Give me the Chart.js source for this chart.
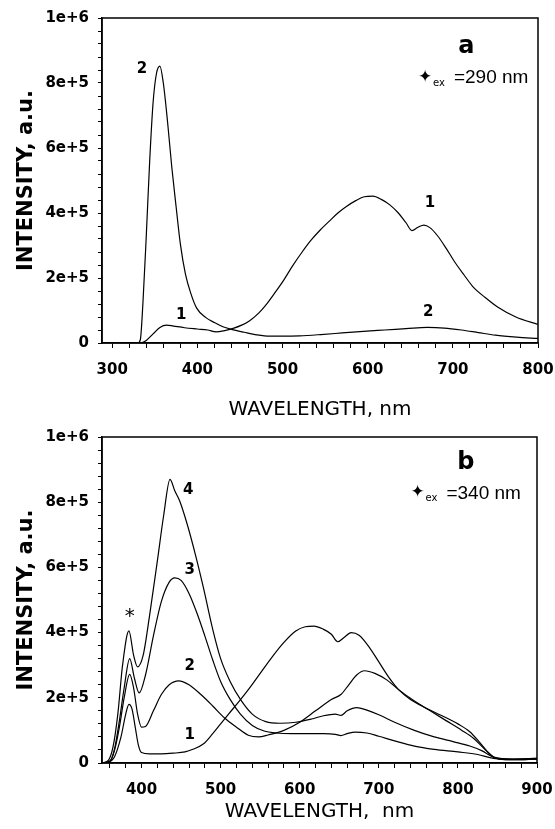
<!DOCTYPE html>
<html>
<head>
<meta charset="utf-8">
<script src="https://cdn.jsdelivr.net/npm/chart.js@4.4.1/dist/chart.umd.min.js"></script>
<style>
  html, body { margin: 0; padding: 0; background: #fff; }
  #wrap { position: relative; width: 555px; height: 829px; }
  canvas { position: absolute; left: 0; }
  #chartA { top: 0; }
  #chartB { top: 422px; }
</style>
</head>
<body>
<div id="wrap">
  <canvas id="chartA" width="555" height="422"></canvas>
  <canvas id="chartB" width="555" height="407"></canvas>
</div>
<script>
// ---- panel a, excitation 290 nm ----
const wlA1 = [288, 333, 340, 348, 356, 364, 372, 385, 400, 412, 422, 432, 442, 452, 461, 472, 482, 492, 502, 512, 523, 533, 544, 555, 565, 575, 586, 596, 606, 616, 626, 636, 645, 652, 659, 666, 673, 682, 692, 702, 713, 724, 738, 753, 774, 800];
const intA1 = [0, 0, 8000, 28000, 48000, 55000, 52000, 47000, 43000, 40000, 34000, 38000, 45000, 55000, 68000, 92000, 122000, 158000, 196000, 238000, 280000, 315000, 347000, 375000, 400000, 420000, 438000, 450000, 452000, 442000, 425000, 400000, 370000, 346000, 356000, 363000, 355000, 330000, 292000, 250000, 210000, 172000, 140000, 110000, 80000, 57000];

const wlA2 = [288, 330, 333, 336, 340, 344, 348, 352, 356, 360, 365, 370, 375, 380, 386, 392, 399, 410, 420, 430, 440, 455, 470, 485, 500, 520, 545, 570, 595, 620, 645, 670, 690, 710, 730, 750, 775, 800];
const intA2 = [0, 0, 10000, 120000, 330000, 560000, 740000, 830000, 852000, 800000, 680000, 540000, 420000, 305000, 212000, 155000, 108000, 78000, 63000, 50000, 42000, 33000, 25000, 21000, 21000, 22000, 26000, 31000, 36000, 40000, 44000, 48000, 46000, 40000, 32000, 24000, 18000, 14000];

// ---- panel b, excitation 340 nm ----
const wlB1 = [350, 358, 366, 374, 380, 384, 388, 392, 396, 400, 410, 425, 440, 455, 465, 478, 490, 500, 510, 522, 535, 550, 565, 580, 595, 607, 618, 630, 640, 648, 656, 665, 675, 688, 700, 712, 725, 740, 760, 780, 800, 815, 828, 840, 852, 870, 900];
const intB1 = [0, 2000, 20000, 80000, 150000, 180000, 165000, 110000, 55000, 32000, 28000, 28000, 30000, 34000, 42000, 58000, 90000, 120000, 150000, 185000, 225000, 275000, 325000, 370000, 405000, 418000, 420000, 410000, 395000, 372000, 385000, 400000, 392000, 355000, 310000, 265000, 225000, 195000, 168000, 145000, 120000, 96000, 62000, 28000, 12000, 10000, 12000];

const wlB2 = [350, 360, 366, 372, 378, 385, 390, 395, 400, 405, 415, 425, 435, 447, 460, 475, 490, 505, 520, 535, 548, 560, 580, 600, 620, 640, 652, 662, 672, 682, 695, 710, 725, 745, 765, 785, 805, 820, 835, 848, 870, 900];
const intB2 = [0, 5000, 40000, 110000, 200000, 272000, 230000, 150000, 110000, 112000, 160000, 210000, 240000, 252000, 240000, 210000, 175000, 138000, 110000, 85000, 80000, 86000, 100000, 125000, 160000, 195000, 210000, 240000, 270000, 283000, 275000, 255000, 225000, 190000, 160000, 130000, 100000, 75000, 40000, 15000, 12000, 14000];

const wlB3 = [350, 360, 366, 372, 378, 385, 391, 397, 405, 415, 425, 435, 442, 450, 460, 470, 480, 490, 500, 512, 525, 540, 555, 570, 590, 610, 630, 645, 652, 660, 670, 685, 700, 720, 745, 770, 800, 825, 845, 870, 900];
const intB3 = [0, 6000, 45000, 130000, 230000, 320000, 260000, 215000, 270000, 390000, 495000, 555000, 568000, 560000, 520000, 460000, 390000, 316000, 250000, 195000, 150000, 115000, 98000, 92000, 90000, 90000, 90000, 88000, 84000, 90000, 95000, 92000, 82000, 68000, 52000, 42000, 34000, 26000, 14000, 10000, 12000];

const wlB4 = [350, 358, 364, 370, 376, 384, 390, 395, 402, 410, 420, 428, 436, 442, 448, 458, 468, 478, 490, 500, 512, 525, 540, 557, 575, 595, 615, 630, 645, 652, 660, 672, 685, 700, 720, 745, 770, 795, 815, 830, 845, 870, 900];
const intB4 = [0, 8000, 50000, 150000, 300000, 405000, 330000, 295000, 330000, 450000, 620000, 760000, 870000, 835000, 805000, 730000, 640000, 540000, 410000, 320000, 250000, 195000, 150000, 127000, 122000, 125000, 135000, 145000, 150000, 146000, 160000, 170000, 162000, 148000, 125000, 100000, 80000, 65000, 52000, 38000, 18000, 12000, 14000];

// curve numbers etc, placed at [wavelength, intensity]
const notesA = [
  { at: [335, 844000], text: '2' },
  { at: [673, 431000], text: '1' },
  { at: [381, 85000], text: '1' },
  { at: [671, 95000], text: '2' },
  { at: [716, 911000], text: 'a', big: true }
];
const notesB = [
  { at: [459, 838000], text: '4' },
  { at: [461, 593000], text: '3' },
  { at: [461, 296000], text: '2' },
  { at: [461, 87000], text: '1' },
  { at: [385, 450000], text: '*', star: true },
  { at: [810, 921000], text: 'b', big: true }
];
const exA = { at: [659, 818000], text: '=290 nm' };
const exB = { at: [740, 829000], text: '=340 nm' };

const TICK_FONT = { family: 'DejaVu Sans', size: 15, weight: 'bold' };

// box round the plot area
const framePlugin = {
  id: 'frame',
  afterDatasetsDraw(chart) {
    const { ctx, chartArea: a } = chart;
    ctx.save();
    ctx.strokeStyle = '#000';
    ctx.lineWidth = 1.5;
    ctx.strokeRect(a.left, a.top, a.right - a.left, a.bottom - a.top);
    ctx.restore();
  }
};

// curve labels and the excitation note
const notesPlugin = {
  id: 'notes',
  afterDraw(chart, args, opts) {
    const { ctx } = chart;
    const xs = chart.scales.x, ys = chart.scales.y;
    ctx.save();
    ctx.fillStyle = '#000';
    ctx.textAlign = 'center';
    ctx.textBaseline = 'middle';
    opts.items.forEach(n => {
      const px = xs.getPixelForValue(n.at[0]);
      const py = ys.getPixelForValue(n.at[1]);
      if (n.big) ctx.font = 'bold 24px "DejaVu Sans"';
      else if (n.star) ctx.font = '20px "DejaVu Sans"';
      else ctx.font = 'bold 15px "DejaVu Sans"';
      ctx.fillText(n.text, px, py);
    });
    const ex = opts.ex;
    const x0 = xs.getPixelForValue(ex.at[0]);
    const y0 = ys.getPixelForValue(ex.at[1]);
    ctx.textAlign = 'left';
    ctx.font = '17px "DejaVu Sans"';
    ctx.fillText('\u2726', x0, y0);
    ctx.font = '10px "DejaVu Sans"';
    ctx.fillText('ex', x0 + 15, y0 + 6);
    ctx.font = '19px "Liberation Sans"';
    ctx.fillText(ex.text, x0 + 36, y0 + 1);
    ctx.restore();
  }
};

function expLabel(v) {
  if (v % 200000 !== 0) return '';
  if (v === 0) return '0';
  return v.toExponential(0);
}

function makePanel(canvasId, series, xMin, xMax, xTitle, xHeight, titlePadBottom, pad, notes, ex) {
  return new Chart(document.getElementById(canvasId), {
    type: 'line',
    data: {
      datasets: series.map(s => ({
        data: s[0].map((w, i) => ({ x: w, y: s[1][i] })),
        borderColor: '#000',
        borderWidth: 1.2,
        pointRadius: 0,
        fill: false,
        cubicInterpolationMode: 'monotone'
      }))
    },
    options: {
      responsive: false,
      animation: false,
      events: [],
      layout: { padding: pad },
      plugins: {
        legend: { display: false },
        tooltip: { enabled: false },
        notes: { items: notes, ex: ex }
      },
      scales: {
        x: {
          type: 'linear',
          min: xMin,
          max: xMax,
          border: { display: true, color: '#000', width: 1.5 },
          grid: { drawOnChartArea: false, drawTicks: true, tickLength: 5, color: '#000' },
          ticks: {
            stepSize: 20,
            includeBounds: false,
            autoSkip: false,
            maxTicksLimit: 100,
            maxRotation: 0,
            padding: 13,
            color: '#000',
            font: TICK_FONT,
            callback: v => (v % 100 === 0 ? String(v) : '')
          },
          title: {
            display: true,
            text: xTitle,
            color: '#000',
            font: { family: 'DejaVu Sans', size: 20 },
            padding: { top: 0, bottom: titlePadBottom }
          },
          afterFit(scale) {
            scale.height = xHeight;
            scale.paddingLeft = 0;
            scale.paddingRight = 0;
          }
        },
        y: {
          min: 0,
          max: 1000000,
          border: { display: true, color: '#000', width: 1.5 },
          grid: { drawOnChartArea: false, drawTicks: true, tickLength: 4, color: '#000' },
          ticks: {
            stepSize: 40000,
            autoSkip: false,
            maxTicksLimit: 100,
            padding: 9,
            color: '#000',
            font: TICK_FONT,
            callback: expLabel
          },
          title: {
            display: true,
            text: 'INTENSITY, a.u.',
            color: '#000',
            font: { family: 'DejaVu Sans', size: 21, weight: 'bold' },
            padding: { top: 14, bottom: 0 }
          },
          afterFit(scale) {
            scale.width = 102;
            scale.paddingTop = 0;
            scale.paddingBottom = 0;
          }
        }
      }
    },
    plugins: [framePlugin, notesPlugin]
  });
}

makePanel('chartA', [[wlA1, intA1], [wlA2, intA2]], 288, 800, 'WAVELENGTH, nm', 79, 0,
  { top: 18, right: 17, left: 0, bottom: 0 }, notesA, exA);

makePanel('chartB', [[wlB1, intB1], [wlB2, intB2], [wlB3, intB3], [wlB4, intB4]], 350, 900, 'WAVELENGTH,  nm', 66, 5,
  { top: 15, right: 18, left: 0, bottom: 0 }, notesB, exB);
</script>
</body>
</html>
